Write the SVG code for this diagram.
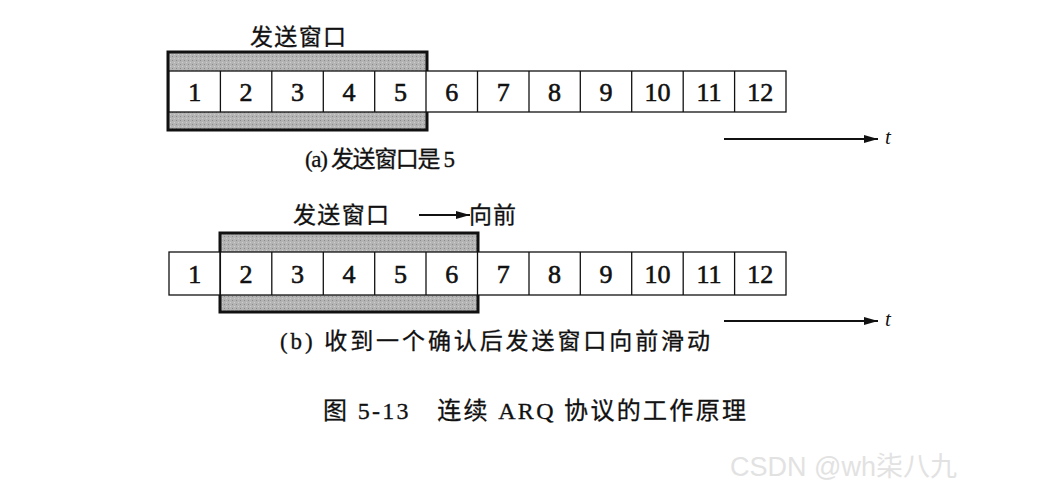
<svg xmlns="http://www.w3.org/2000/svg" width="1044" height="499" viewBox="0 0 1044 499">
<defs>
<pattern id="dots" width="4" height="4" patternUnits="userSpaceOnUse"><rect width="4" height="4" fill="#b4b4b4"/><rect width="1" height="1" fill="#8a8a8a"/><rect x="2" y="2" width="1" height="1" fill="#d0d0d0"/></pattern>
<marker id="ah" markerWidth="14" markerHeight="8" refX="14" refY="4" orient="auto" markerUnits="userSpaceOnUse"><path d="M0,0 L14,4 L0,8 Z" fill="#111"/></marker>
</defs>
<style>
text{font-family:"Liberation Serif","Noto Sans CJK SC",serif;fill:#111}
.cell{fill:#fff;stroke:#111;stroke-width:1.3}
.num{font-size:26px;text-anchor:middle;stroke:#111;stroke-width:0.6}
.lbl{font-size:23px;stroke:#111;stroke-width:0.3}
.win{fill:url(#dots);stroke:#111;stroke-width:3}
.ln{stroke:#111;stroke-width:2;fill:none}
</style>
<rect width="1044" height="499" fill="#fff"/>
<g id="windowA"><rect class="win" x="168" y="52" width="259" height="78"/></g>
<g id="rowA">
<rect class="cell" x="169" y="71" width="617" height="41"/>
<g stroke="#111" stroke-width="1.3">
<line x1="220.4" y1="71" x2="220.4" y2="112"/><line x1="271.8" y1="71" x2="271.8" y2="112"/><line x1="323.3" y1="71" x2="323.3" y2="112"/><line x1="374.7" y1="71" x2="374.7" y2="112"/><line x1="426" y1="71" x2="426" y2="112"/><line x1="477.5" y1="71" x2="477.5" y2="112"/><line x1="529" y1="71" x2="529" y2="112"/><line x1="580.3" y1="71" x2="580.3" y2="112"/><line x1="631.7" y1="71" x2="631.7" y2="112"/><line x1="683.2" y1="71" x2="683.2" y2="112"/><line x1="734.6" y1="71" x2="734.6" y2="112"/>
</g>
<text class="num" x="194.7" y="101">1</text><text class="num" x="246.1" y="101">2</text><text class="num" x="297.5" y="101">3</text><text class="num" x="349" y="101">4</text><text class="num" x="400.4" y="101">5</text><text class="num" x="451.8" y="101">6</text><text class="num" x="503.2" y="101">7</text><text class="num" x="554.6" y="101">8</text><text class="num" x="606" y="101">9</text><text class="num" x="657.5" y="101">10</text><text class="num" x="709" y="101">11</text><text class="num" x="760.3" y="101">12</text>
</g>
<g id="labelsA">
<text class="lbl" x="250" y="45" textLength="96">发送窗口</text>
<text class="lbl" x="305" y="167" textLength="150">(a) 发送窗口是 5</text>
</g>
<g id="windowB"><rect class="win" x="220" y="233" width="258" height="79"/></g>
<g id="rowB">
<rect class="cell" x="169" y="252" width="51" height="43"/>
<rect class="cell" x="220.4" y="252" width="565.6" height="43"/>
<g stroke="#111" stroke-width="1.3">
<line x1="271.8" y1="252" x2="271.8" y2="295"/><line x1="323.3" y1="252" x2="323.3" y2="295"/><line x1="374.7" y1="252" x2="374.7" y2="295"/><line x1="426" y1="252" x2="426" y2="295"/><line x1="477.5" y1="252" x2="477.5" y2="295"/><line x1="529" y1="252" x2="529" y2="295"/><line x1="580.3" y1="252" x2="580.3" y2="295"/><line x1="631.7" y1="252" x2="631.7" y2="295"/><line x1="683.2" y1="252" x2="683.2" y2="295"/><line x1="734.6" y1="252" x2="734.6" y2="295"/>
</g>
<text class="num" x="194.7" y="283">1</text><text class="num" x="246.1" y="283">2</text><text class="num" x="297.5" y="283">3</text><text class="num" x="349" y="283">4</text><text class="num" x="400.4" y="283">5</text><text class="num" x="451.8" y="283">6</text><text class="num" x="503.2" y="283">7</text><text class="num" x="554.6" y="283">8</text><text class="num" x="606" y="283">9</text><text class="num" x="657.5" y="283">10</text><text class="num" x="709" y="283">11</text><text class="num" x="760.3" y="283">12</text>
</g>
<g id="labelsB">
<text class="lbl" x="293" y="223" textLength="96">发送窗口</text>
<text class="lbl" x="469" y="223" textLength="47">向前</text>
<text class="lbl" x="280" y="349" textLength="430">(b) 收到一个确认后发送窗口向前滑动</text>
</g>
<g id="connectors">
<line class="ln" x1="419" y1="215" x2="470" y2="215" marker-end="url(#ah)"/>
<line class="ln" x1="724" y1="139" x2="878" y2="139" marker-end="url(#ah)"/>
<line class="ln" x1="724" y1="321" x2="878" y2="321" marker-end="url(#ah)"/>
</g>
<text x="885" y="144" style="font-size:21px;font-style:italic">t</text>
<text x="885" y="326" style="font-size:21px;font-style:italic">t</text>
<text x="323" y="419" class="lbl" style="font-size:24px" textLength="423">图 5-13　连续 ARQ 协议的工作原理</text>
<text x="730" y="476" style="font-family:'Liberation Sans','Noto Sans CJK SC',sans-serif;font-size:27px;fill:#e2e2e2">CSDN @wh柒八九</text>
</svg>
